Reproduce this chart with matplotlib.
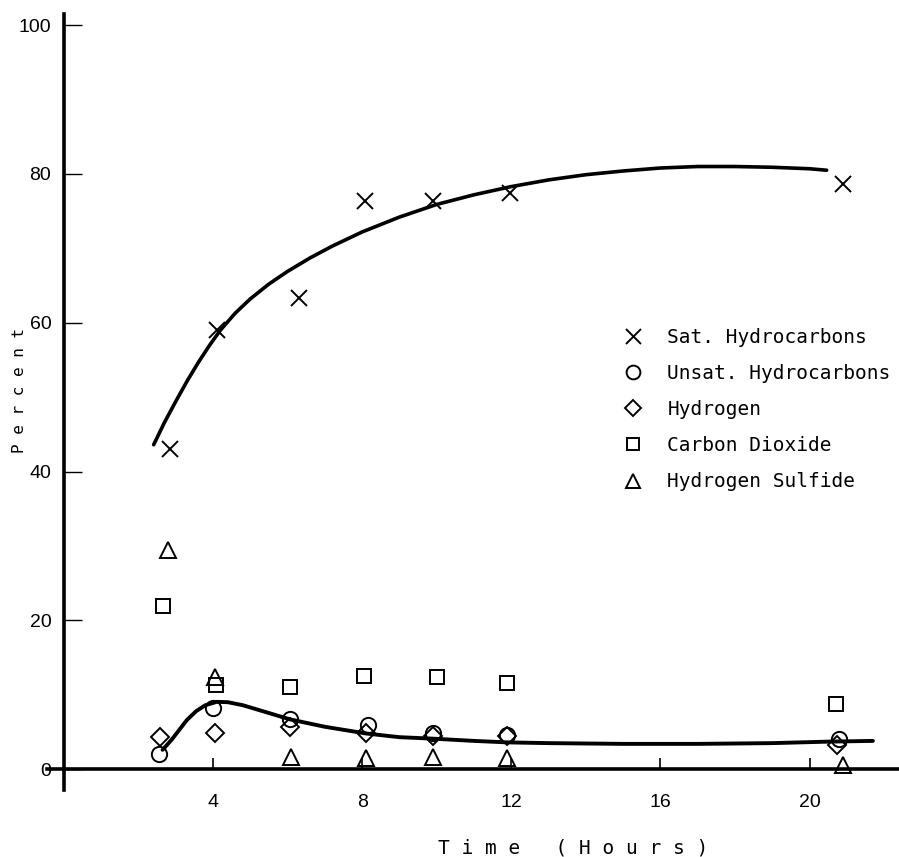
import matplotlib
matplotlib.use('Agg')
import matplotlib.pyplot as plt

# measured points (time in hours, percent)
sat_x = [2.84, 4.1, 6.3, 8.07, 9.9, 11.96, 20.9]
sat_y = [43.1, 59.0, 63.3, 76.4, 76.3, 77.4, 78.6]

unsat_x = [2.55, 4.0, 6.06, 8.15, 9.9, 11.9, 20.8]
unsat_y = [2.0, 8.2, 6.8, 6.0, 4.8, 4.6, 4.0]

h2_x = [2.57, 4.05, 6.06, 8.1, 9.9, 11.9, 20.75]
h2_y = [4.3, 4.8, 5.7, 4.8, 4.5, 4.4, 3.2]

co2_x = [2.65, 4.07, 6.08, 8.04, 10.0, 11.9, 20.7]
co2_y = [21.9, 11.3, 11.0, 12.5, 12.4, 11.6, 8.7]

h2s_x = [2.8, 4.05, 6.1, 8.1, 9.9, 11.9, 20.9]
h2s_y = [29.4, 12.4, 1.7, 1.5, 1.6, 1.5, 0.5]

# hand drawn fit curves
sat_curve_x = [2.41, 2.7, 3.0, 3.3, 3.6, 3.9, 4.2, 4.6, 5.0, 5.5, 6.0, 6.6, 7.2, 8.0, 9.0,
               10.0, 11.0, 12.0, 13.0, 14.0, 15.0, 16.0, 17.0, 18.0, 19.0, 20.0, 20.46]
sat_curve_y = [43.6, 46.6, 49.4, 52.1, 54.6, 56.9, 59.0, 61.3, 63.2, 65.2, 66.9, 68.7, 70.3, 72.2, 74.2,
               75.9, 77.2, 78.3, 79.2, 79.9, 80.4, 80.8, 81.0, 81.0, 80.9, 80.7, 80.5]

low_curve_x = [2.65, 2.9, 3.1, 3.3, 3.55, 3.8, 4.1, 4.4, 4.8, 5.4, 6.06, 7.0, 8.1, 9.0, 9.9,
               11.0, 11.9, 13.0, 15.0, 17.0, 19.0, 20.5, 21.7]
low_curve_y = [2.6, 4.0, 5.3, 6.6, 7.8, 8.6, 9.05, 9.0, 8.6, 7.7, 6.7, 5.7, 4.8, 4.3, 4.1,
               3.8, 3.6, 3.5, 3.4, 3.4, 3.5, 3.7, 3.8]

labels = ['Sat. Hydrocarbons', 'Unsat. Hydrocarbons', 'Hydrogen', 'Carbon Dioxide', 'Hydrogen Sulfide']

fig = plt.figure(figsize=(8.99, 8.57), dpi=100)
ax = fig.add_axes([47 / 899, 67 / 857, 852 / 899, 776 / 857])

ax.plot(sat_curve_x, sat_curve_y, color='black', lw=2.6, solid_capstyle='round', solid_joinstyle='round')
ax.plot(low_curve_x, low_curve_y, color='black', lw=2.8, solid_capstyle='round', solid_joinstyle='round')

mk = dict(linestyle='none', color='black', mfc='none', mew=1.4)
ax.plot(sat_x, sat_y, marker='x', ms=12, label=labels[0], **mk)
ax.plot(unsat_x, unsat_y, marker='o', ms=11, label=labels[1], **mk)
ax.plot(h2_x, h2_y, marker='D', ms=9.5, label=labels[2], **mk)
ax.plot(co2_x, co2_y, marker='s', ms=10, label=labels[3], **mk)
ax.plot(h2s_x, h2s_y, marker='^', ms=11, label=labels[4], **mk)

ax.set_xlim(-0.45, 22.4)
ax.set_ylim(-2.8, 101.5)
ax.spines['left'].set_position(('data', 0))
ax.spines['bottom'].set_position(('data', 0))
ax.spines['right'].set_visible(False)
ax.spines['top'].set_visible(False)
ax.spines['left'].set_linewidth(2.6)
ax.spines['bottom'].set_linewidth(2.6)

ax.set_xticks([4, 8, 12, 16, 20])
ax.set_yticks([0, 20, 40, 60, 80, 100])
ax.tick_params(axis='x', direction='in', length=8, width=1.2, pad=18, labelsize=14)
ax.tick_params(axis='y', direction='in', length=13, width=1.0, pad=9, labelsize=14)
for t in ax.get_xticklabels() + ax.get_yticklabels():
    t.set_fontfamily('Liberation Sans')

ax.set_xlabel('T i m e   ( H o u r s )', family='DejaVu Sans Mono', fontsize=14)
ax.xaxis.set_label_coords(0.617, -0.062)
ax.set_ylabel('P e r c e n t', family='DejaVu Sans Mono', fontsize=11.5)
ax.yaxis.set_label_coords(-0.023, 0.515)

leg = ax.legend(loc='upper left', bbox_to_anchor=(0.654, 0.618), frameon=False,
                prop={'family': 'DejaVu Sans Mono', 'size': 14},
                labelspacing=0.88, handletextpad=1.15, handlelength=1.2, markerscale=0.9)

fig.savefig('out.png', dpi=100)
